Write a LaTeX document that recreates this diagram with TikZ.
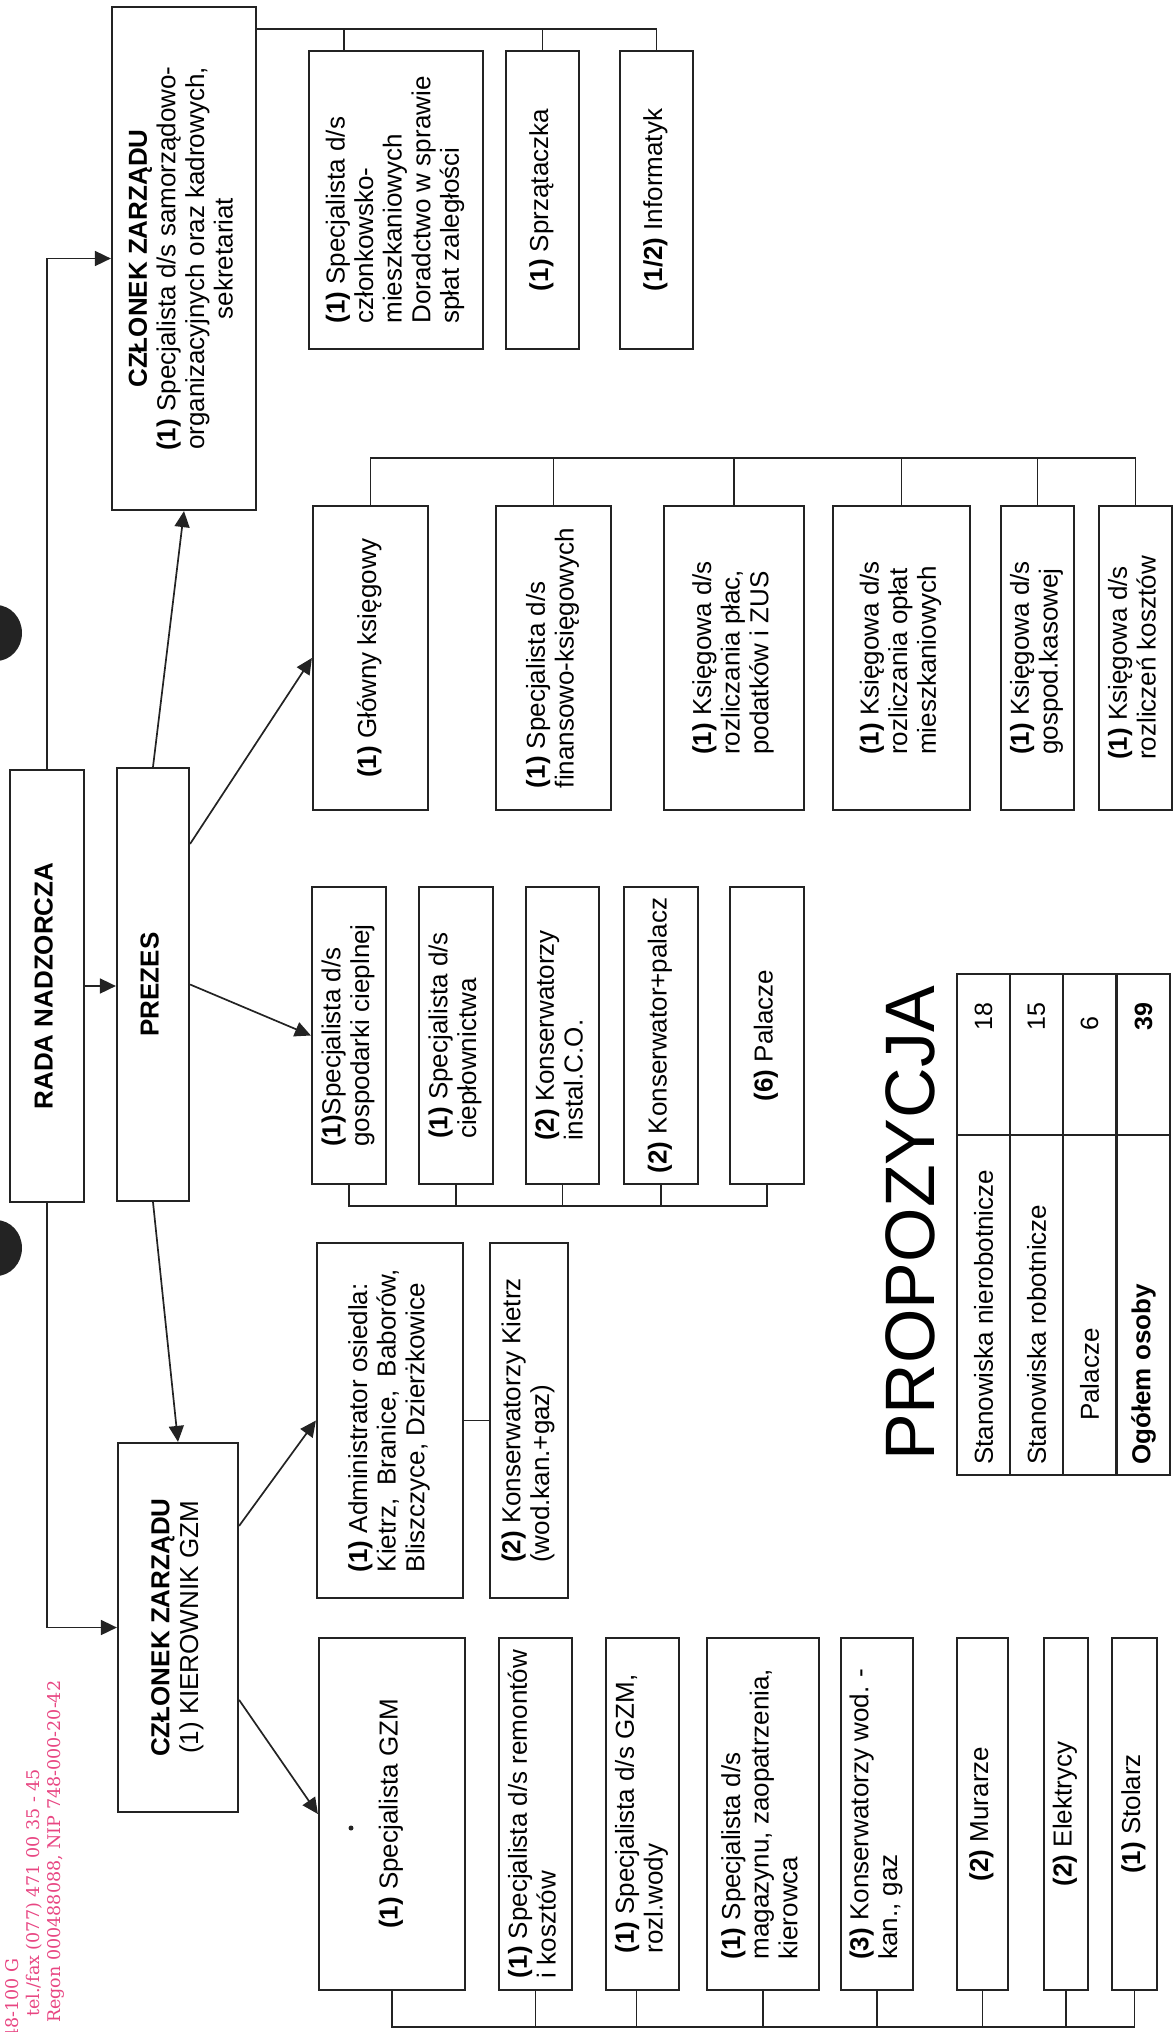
\documentclass[tikz,border=0pt]{standalone}
\usepackage{graphicx}
\usepackage{fontspec}
\setmainfont{Liberation Sans}
\newfontfamily\stampfont{DejaVu Serif}
\usetikzlibrary{arrows.meta}
\definecolor{ink}{RGB}{35,35,35}
\definecolor{stamp}{RGB}{232,70,130}
\newcommand{\vtxt}[2][l]{\rotatebox{90}{\begin{tabular}{@{}#1@{}}#2\end{tabular}}}

\begin{document}
\begin{tikzpicture}[
	x=1pt, y=-1pt,
	box/.style={draw=ink, line width=2.2pt, inner sep=0pt, font=\fontsize{26}{28.6}\selectfont},
	sz/.style 2 args={minimum width=#1, minimum height=#2},
	arr/.style={draw=ink, line width=1.7pt, -{Triangle[length=16pt, width=15pt]}},
	bus/.style={draw=ink, line width=1.7pt},
	cell/.style={draw=ink, line width=1.7pt, inner sep=0pt},
	lbl/.style={rotate=90, anchor=west, inner sep=0pt, font=\fontsize{26}{28.6}\selectfont},
	]
	\useasboundingbox (0,0) rectangle (1175,2032);
	
	%Nodes
	\node[box, sz={74}{432}]   (rada)       at (47,986)     {\vtxt{\textbf{RADA NADZORCZA}}};
	\node[box, sz={72}{433}]   (prezes)     at (153,984.5)  {\vtxt{\textbf{PREZES}}};
	\node[box, sz={144}{503}]  (ctop)       at (184,258.5)  {\vtxt[c]{\textbf{CZŁONEK ZARZĄDU}\\ \textbf{(1)} Specjalista d/s samorządowo-\\ organizacyjnych oraz kadrowych,\\ sekretariat}};
	\node[box, sz={120}{369}]  (cbot)       at (178,1627.5) {\vtxt[c]{\textbf{CZŁONEK ZARZĄDU}\\ (1) KIEROWNIK GZM}};
	
	\node[box, sz={174}{298}]  (czlonk)     at (396,200)    {\vtxt{\textbf{(1)} Specjalista d/s\\ członkowsko-\\ mieszkaniowych\\ Doradctwo w sprawie\\ spłat zaległości}};
	\node[box, sz={73}{298}]   (sprzat)     at (542.5,200)  {\vtxt{\textbf{(1)} Sprzątaczka}};
	\node[box, sz={73}{298}]   (inform)     at (656.5,200)  {\vtxt{\textbf{(1/2)} Informatyk}};
	
	\node[box, sz={115}{304}]  (glowny)     at (370.5,658)  {\vtxt{\textbf{(1)} Główny księgowy}};
	\node[box, sz={115}{304}]  (specfin)    at (553.5,658)  {\vtxt{\textbf{(1)} Specjalista d/s\\ finansowo-księgowych}};
	\node[box, sz={140}{304}]  (ksplac)     at (734,658)    {\vtxt{\textbf{(1)} Księgowa d/s\\ rozliczania płac,\\ podatków i ZUS}};
	\node[box, sz={137}{304}]  (ksoplat)    at (901.5,658)  {\vtxt{\textbf{(1)} Księgowa d/s\\ rozliczania opłat\\ mieszkaniowych}};
	\node[box, sz={73}{304}]   (kskasa)     at (1037.5,658) {\vtxt{\textbf{(1)} Księgowa d/s\\ gospod.kasowej}};
	\node[box, sz={73}{304}]   (kskoszt)    at (1135.5,658) {\vtxt{\textbf{(1)} Księgowa d/s\\ rozliczeń kosztów}};
	
	\node[box, sz={74}{297}]   (gospciep)   at (349,1035.5) {\vtxt{\textbf{(1)}Specjalista d/s\\ gospodarki cieplnej}};
	\node[box, sz={74}{297}]   (cieplown)   at (456,1035.5) {\vtxt{\textbf{(1)} Specjalista d/s\\ ciepłownictwa}};
	\node[box, sz={73}{297}]   (konsco)     at (562.5,1035.5) {\vtxt{\textbf{(2)} Konserwatorzy\\ instal.C.O.}};
	\node[box, sz={74}{297}]   (konspal)    at (661,1035.5) {\vtxt{\textbf{(2)} Konserwator+palacz}};
	\node[box, sz={74}{297}]   (palacze)    at (767,1035.5) {\vtxt{\textbf{(6)} Palacze}};
	
	\node[box, sz={146}{355}]  (admin)      at (390,1420.5) {\vtxt{\textbf{(1)} Administrator osiedla:\\ Kietrz,\enspace Branice,\enspace Baborów,\\ Bliszczyce, Dzierżkowice}};
	\node[box, sz={78}{355}]   (konskietrz) at (529,1420.5) {\vtxt{\textbf{(2)} Konserwatorzy Kietrz\\ (wod.kan.+gaz)}};
	
	\node[box, sz={146}{352}]  (specgzm)    at (392,1814)   {\vtxt{\textbf{(1)} Specjalista GZM}};
	\node[box, sz={73}{352}]   (specrem)    at (535.5,1814) {\vtxt{\textbf{(1)} Specjalista d/s remontów\\ i kosztów}};
	\node[box, sz={73}{352}]   (specwody)   at (642.5,1814) {\vtxt{\textbf{(1)} Specjalista d/s GZM,\\ rozl.wody}};
	\node[box, sz={112}{352}]  (specmag)    at (763,1814)   {\vtxt{\textbf{(1)} Specjalista d/s\\ magazynu, zaopatrzenia,\\ kierowca}};
	\node[box, sz={72}{352}]   (konswod)    at (877,1814)   {\vtxt{\textbf{(3)} Konserwatorzy wod. -\\ kan., gaz}};
	\node[box, sz={51}{352}]   (murarze)    at (982.5,1814) {\vtxt{\textbf{(2)} Murarze}};
	\node[box, sz={44}{352}]   (elektr)     at (1066,1814)  {\vtxt{\textbf{(2)} Elektrycy}};
	\node[box, sz={45}{352}]   (stolarz)    at (1134.5,1814) {\vtxt{\textbf{(1)} Stolarz}};
	
	%Table
	\node[rotate=90, anchor=base west, inner sep=0pt, font=\fontsize{70}{80}\selectfont] (tytul) at (934,1461) {PROPOZYCJA};
	\foreach \xc/\lab/\ly/\num [count=\i] in {983.5/{Stanowiska nierobotnicze}/1465/18, 1036.5/{Stanowiska robotnicze}/1465/15, 1089.5/Palacze/1421/6, 1143.5/{\textbf{Ogółem osoby}}/1465/{\textbf{39}}} {
		\node[cell, sz={53}{340}] (lab\i) at (\xc,1305) {};
		\node[cell, sz={53}{161}] (val\i) at (\xc,1054.5) {};
		\node[lbl] (labtxt\i) at (\xc,\ly) {\lab};
		\node[lbl, font=\fontsize{25}{27}\selectfont] (valtxt\i) at (\xc,1031) {\num};
	}
	
	%Stamp
	\node[rotate=90, anchor=base west, inner sep=0pt, text=stamp, font=\stampfont\fontsize{17.5}{20}\selectfont] (adres) at (18,2040) {48-100 G};
	\node[rotate=90, anchor=base west, inner sep=0pt, text=stamp, font=\stampfont\fontsize{17.5}{20}\selectfont] (tel) at (39,2017) {tel./fax (077) 471 00 35 - 45};
	\node[rotate=90, anchor=base west, inner sep=0pt, text=stamp, font=\stampfont\fontsize{17.5}{20}\selectfont] (regon) at (60,2023) {Regon 000488088, NIP 748-000-20-42};
	
	%Punch holes
	\fill[ink] (-4,633) ellipse [x radius=26pt, y radius=28pt];
	\fill[ink] (-4,1248) ellipse [x radius=26pt, y radius=28pt];
	\fill[ink] (351,1828) circle [radius=2.5pt];
	
	%Lines
	\draw[arr] (rada.north) |- (ctop.west);
	\draw[arr] (rada.south) |- (cbot.west);
	\draw[arr] (rada.east) -- (rada.east -| prezes.west);
	\draw[arr] (prezes.north) -- (ctop.south);
	\draw[arr] (prezes.south) -- (cbot.north);
	\draw[arr] ([yshift=-77pt]prezes.north east) -- (glowny.west);
	\draw[arr] (prezes.east) -- (gospciep.west);
	\draw[arr] ([yshift=-84pt]cbot.north east) -- (admin.west);
	\draw[arr] ([yshift=-258pt]cbot.north east) -- (specgzm.west);
	\draw[bus] (admin.east) -- (konskietrz.west);
	
	\draw[bus] ([yshift=-23pt]ctop.north east) -| (inform.north);
	\draw[bus] ([xshift=-52pt]czlonk.north) -- ++(0,-21);
	\draw[bus] (sprzat.north) -- ++(0,-21);
	
	\draw[bus] (glowny.north) -- ++(0,-47) -| (kskoszt.north);
	\foreach \n in {specfin,ksplac,ksoplat,kskasa}
		\draw[bus] (\n.north) -- ++(0,-47);
	
	\draw[bus] (gospciep.south) -- ++(0,21) -| (palacze.south);
	\foreach \n in {cieplown,konsco,konspal}
		\draw[bus] (\n.south) -- ++(0,21);
	
	\draw[bus] (specgzm.south) -- ++(0,36) -| (stolarz.south);
	\draw[bus] ([xshift=-6pt]specwody.south) -- ++(0,36);
	\foreach \n in {specrem,specmag,konswod,murarze,elektr}
		\draw[bus] (\n.south) -- ++(0,36);
\end{tikzpicture}
\end{document}
